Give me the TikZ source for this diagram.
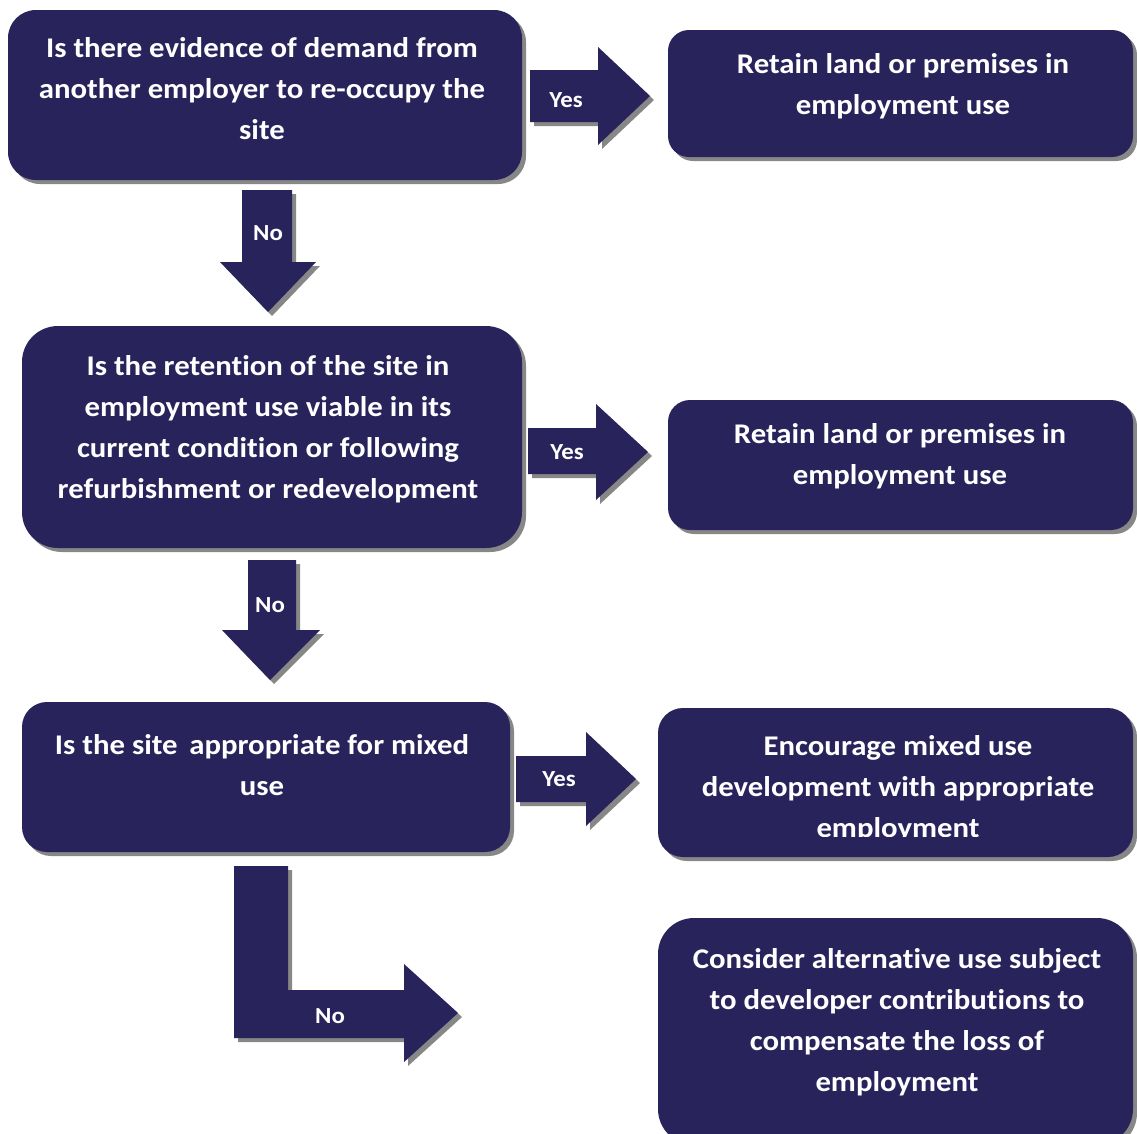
\documentclass[tikz,border=0pt]{standalone}
\usepackage{fontspec}
\setmainfont{Carlito}[FakeStretch=1.08,Ligatures=NoCommon]
\usetikzlibrary{shadows}
\definecolor{navy}{RGB}{41,35,92}
\tikzset{
  shad/.style={drop shadow={shadow xshift=4pt, shadow yshift=-4pt, fill=black!55, opacity=0.85}},
  box/.style={rectangle, fill=navy, draw=none, inner sep=0pt, shad},
  txt/.style={text=white, font=\bfseries\fontsize{28.5}{41}\selectfont, align=center, inner sep=0pt},
  lbl/.style={text=white, font=\bfseries\fontsize{23}{23}\selectfont, inner sep=0pt},
  barrow/.style={fill=navy, shad}
}
\begin{document}
\begin{tikzpicture}[x=1pt,y=-1pt]
\clip (0,0) rectangle (1137,1133);
\fill[white] (0,0) rectangle (1137,1133);

% boxes
\node[box, rounded corners=28pt, minimum width=514pt, minimum height=170pt] (b1) at (265,95) {};
\node[box, rounded corners=21pt, minimum width=465pt, minimum height=127pt] (r1) at (900.5,93.5) {};
\node[box, rounded corners=36pt, minimum width=500pt, minimum height=222pt] (b2) at (272,437) {};
\node[box, rounded corners=22pt, minimum width=465pt, minimum height=130pt] (r2) at (900.5,465) {};
\node[box, rounded corners=25pt, minimum width=488pt, minimum height=150pt] (b3) at (266,777) {};
\node[box, rounded corners=25pt, minimum width=475pt, minimum height=149pt] (r3) at (895.5,782.5) {};
\node[box, rounded corners=36pt, minimum width=475pt, minimum height=227pt] (r4) at (895.5,1031.5) {};

% block arrows
\fill[barrow] (530,70) -- (598,70) -- (598,47) -- (650,96) -- (598,145) -- (598,122) -- (530,122) -- cycle;
\fill[barrow] (242,190) -- (292,190) -- (292,262) -- (316,262) -- (268,312) -- (220,262) -- (242,262) -- cycle;
\fill[barrow] (528,428) -- (596,428) -- (596,404) -- (648,452) -- (596,500) -- (596,474) -- (528,474) -- cycle;
\fill[barrow] (248,560) -- (296,560) -- (296,630) -- (320,630) -- (270,680) -- (222,630) -- (248,630) -- cycle;
\fill[barrow] (516,756) -- (586,756) -- (586,732) -- (636,779) -- (586,826) -- (586,802) -- (516,802) -- cycle;
\fill[barrow] (234,866) -- (288,866) -- (288,990) -- (404,990) -- (404,964) -- (458,1013) -- (404,1062) -- (404,1038) -- (234,1038) -- cycle;

% labels
\node[lbl] (y1) at (566,100) {Yes};
\node[lbl] (n1) at (268,233) {No};
\node[lbl] (y2) at (567,452) {Yes};
\node[lbl] (n2) at (270,605) {No};
\node[lbl] (y3) at (559,779) {Yes};
\node[lbl] (n3) at (330,1016) {No};

% texts
\node[txt] (t1) at (262,89) {Is there evidence of demand from\\another employer to re-occupy the\\site};
\node[txt] (t2) at (903,86) {Retain land or premises in\\employment use};
\node[txt] (t3) at (268,429) {Is the retention of the site in\\employment use viable in its\\current condition or following\\refurbishment or redevelopment};
\node[txt] (t4) at (900,456) {Retain land or premises in\\employment use};
\node[txt] (t5) at (262,765) {Is the site\, appropriate for mixed\\use};
\begin{scope}
\clip (658,708) rectangle (1133,836);
\node[txt] (t6) at (898,789) {Encourage mixed use\\development with appropriate\\employment};
\end{scope}
\node[txt] (t7) at (897,1022) {Consider alternative use subject\\to developer contributions to\\compensate the loss of\\employment};
\end{tikzpicture}
\end{document}
